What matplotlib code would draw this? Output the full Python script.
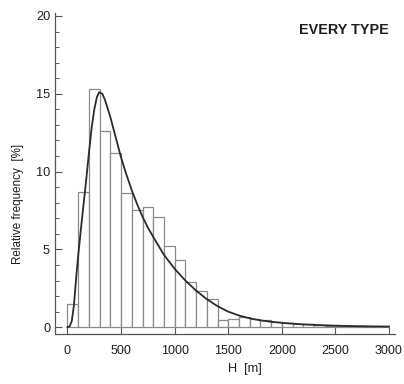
import numpy as np
import matplotlib
matplotlib.use("Agg")
import matplotlib.pyplot as plt
from matplotlib.ticker import MultipleLocator

plt.rcParams['font.family'] = ['Liberation Sans', 'DejaVu Sans']

# Histogram of H in 100 m classes (relative frequency, %)
bin_edges = list(range(0, 3001, 100))
rel_freq = [1.5, 8.7, 15.3, 12.6, 11.2, 8.6, 7.5, 7.75, 7.1, 5.2,
            4.3, 2.9, 2.3, 1.8, 0.45, 0.5, 0.65, 0.5, 0.45, 0.35,
            0.3, 0.22, 0.18, 0.15, 0.1, 0.08, 0.06, 0.05, 0.04, 0.03]

# Fitted distribution curve
curve_h = [0, 20, 40, 60, 80, 100, 125, 150, 175, 200, 225, 250, 275, 295,
           325, 350, 400, 450, 500, 550, 600, 650, 700, 750, 800, 900, 1000,
           1100, 1200, 1300, 1400, 1500, 1600, 1700, 1800, 1900, 2000, 2200,
           2400, 2600, 2800, 3000]
curve_f = [0.0, 0.05, 0.4, 1.4, 3.1, 4.6, 6.3, 7.9, 9.5, 11.2, 12.8, 14.0, 14.8, 15.1,
           15.0, 14.6, 13.5, 12.2, 10.9, 9.8, 8.8, 7.9, 7.1, 6.4, 5.8, 4.65, 3.75,
           3.0, 2.35, 1.8, 1.35, 1.0, 0.75, 0.57, 0.44, 0.35, 0.28, 0.18,
           0.12, 0.08, 0.055, 0.04]

x_ticks = [0, 500, 1000, 1500, 2000, 2500, 3000]
y_ticks = [0, 5, 10, 15, 20]

W, H = 404, 384
fig = plt.figure(figsize=(W / 100, H / 100), dpi=100)
left, right, top, bottom = 55, 395, 13, 333.5
ax = fig.add_axes([left / W, 1 - bottom / H, (right - left) / W, (bottom - top) / H])

text_c = '#1e1e1e'
edges = np.array(bin_edges)
ax.bar(edges[:-1], rel_freq, width=np.diff(edges), align='edge',
       facecolor='white', edgecolor='#8a8a8a', linewidth=0.9, zorder=2)
ax.plot(curve_h, curve_f, color='#2b2b2b', linewidth=1.3, zorder=3,
        solid_joinstyle='round')

ax.set_xlim(-116.6, 3056)
ax.set_ylim(-0.405, 20.19)

for s in ('top', 'right'):
    ax.spines[s].set_visible(False)
for s in ('left', 'bottom'):
    ax.spines[s].set_color('#555555')
    ax.spines[s].set_linewidth(0.9)

ax.set_xticks(x_ticks)
ax.set_yticks(y_ticks)
ax.yaxis.set_minor_locator(MultipleLocator(1))
ax.tick_params(axis='both', which='both', direction='in', colors='#555555',
               labelcolor=text_c)
ax.tick_params(axis='y', which='major', length=5, width=0.8, pad=3.5, labelsize=9.2)
ax.tick_params(axis='y', which='minor', length=3, width=0.7)
ax.tick_params(axis='x', which='major', length=5, width=0.8, pad=8.5, labelsize=9)

ax.set_xlabel('H  [m]', fontsize=9.2, color=text_c)
ax.xaxis.label.set_verticalalignment('center')
ax.xaxis.set_label_coords((245 - left) / (right - left), (bottom - 369) / (bottom - top))
ax.set_ylabel('Relative frequency  [%]', fontsize=8.4, color=text_c)
ax.yaxis.label.set_verticalalignment('center')
ax.yaxis.label.set_horizontalalignment('center')
ax.yaxis.label.set_rotation_mode('default')
ax.yaxis.set_label_coords((18 - left) / (right - left), (bottom - 204) / (bottom - top))

fig.text(344 / W, 1 - 30 / H, 'EVERY TYPE', ha='center', va='center',
         fontsize=10.4, fontweight='bold', color=text_c)

fig.savefig('out.png', dpi=100, facecolor='white')
